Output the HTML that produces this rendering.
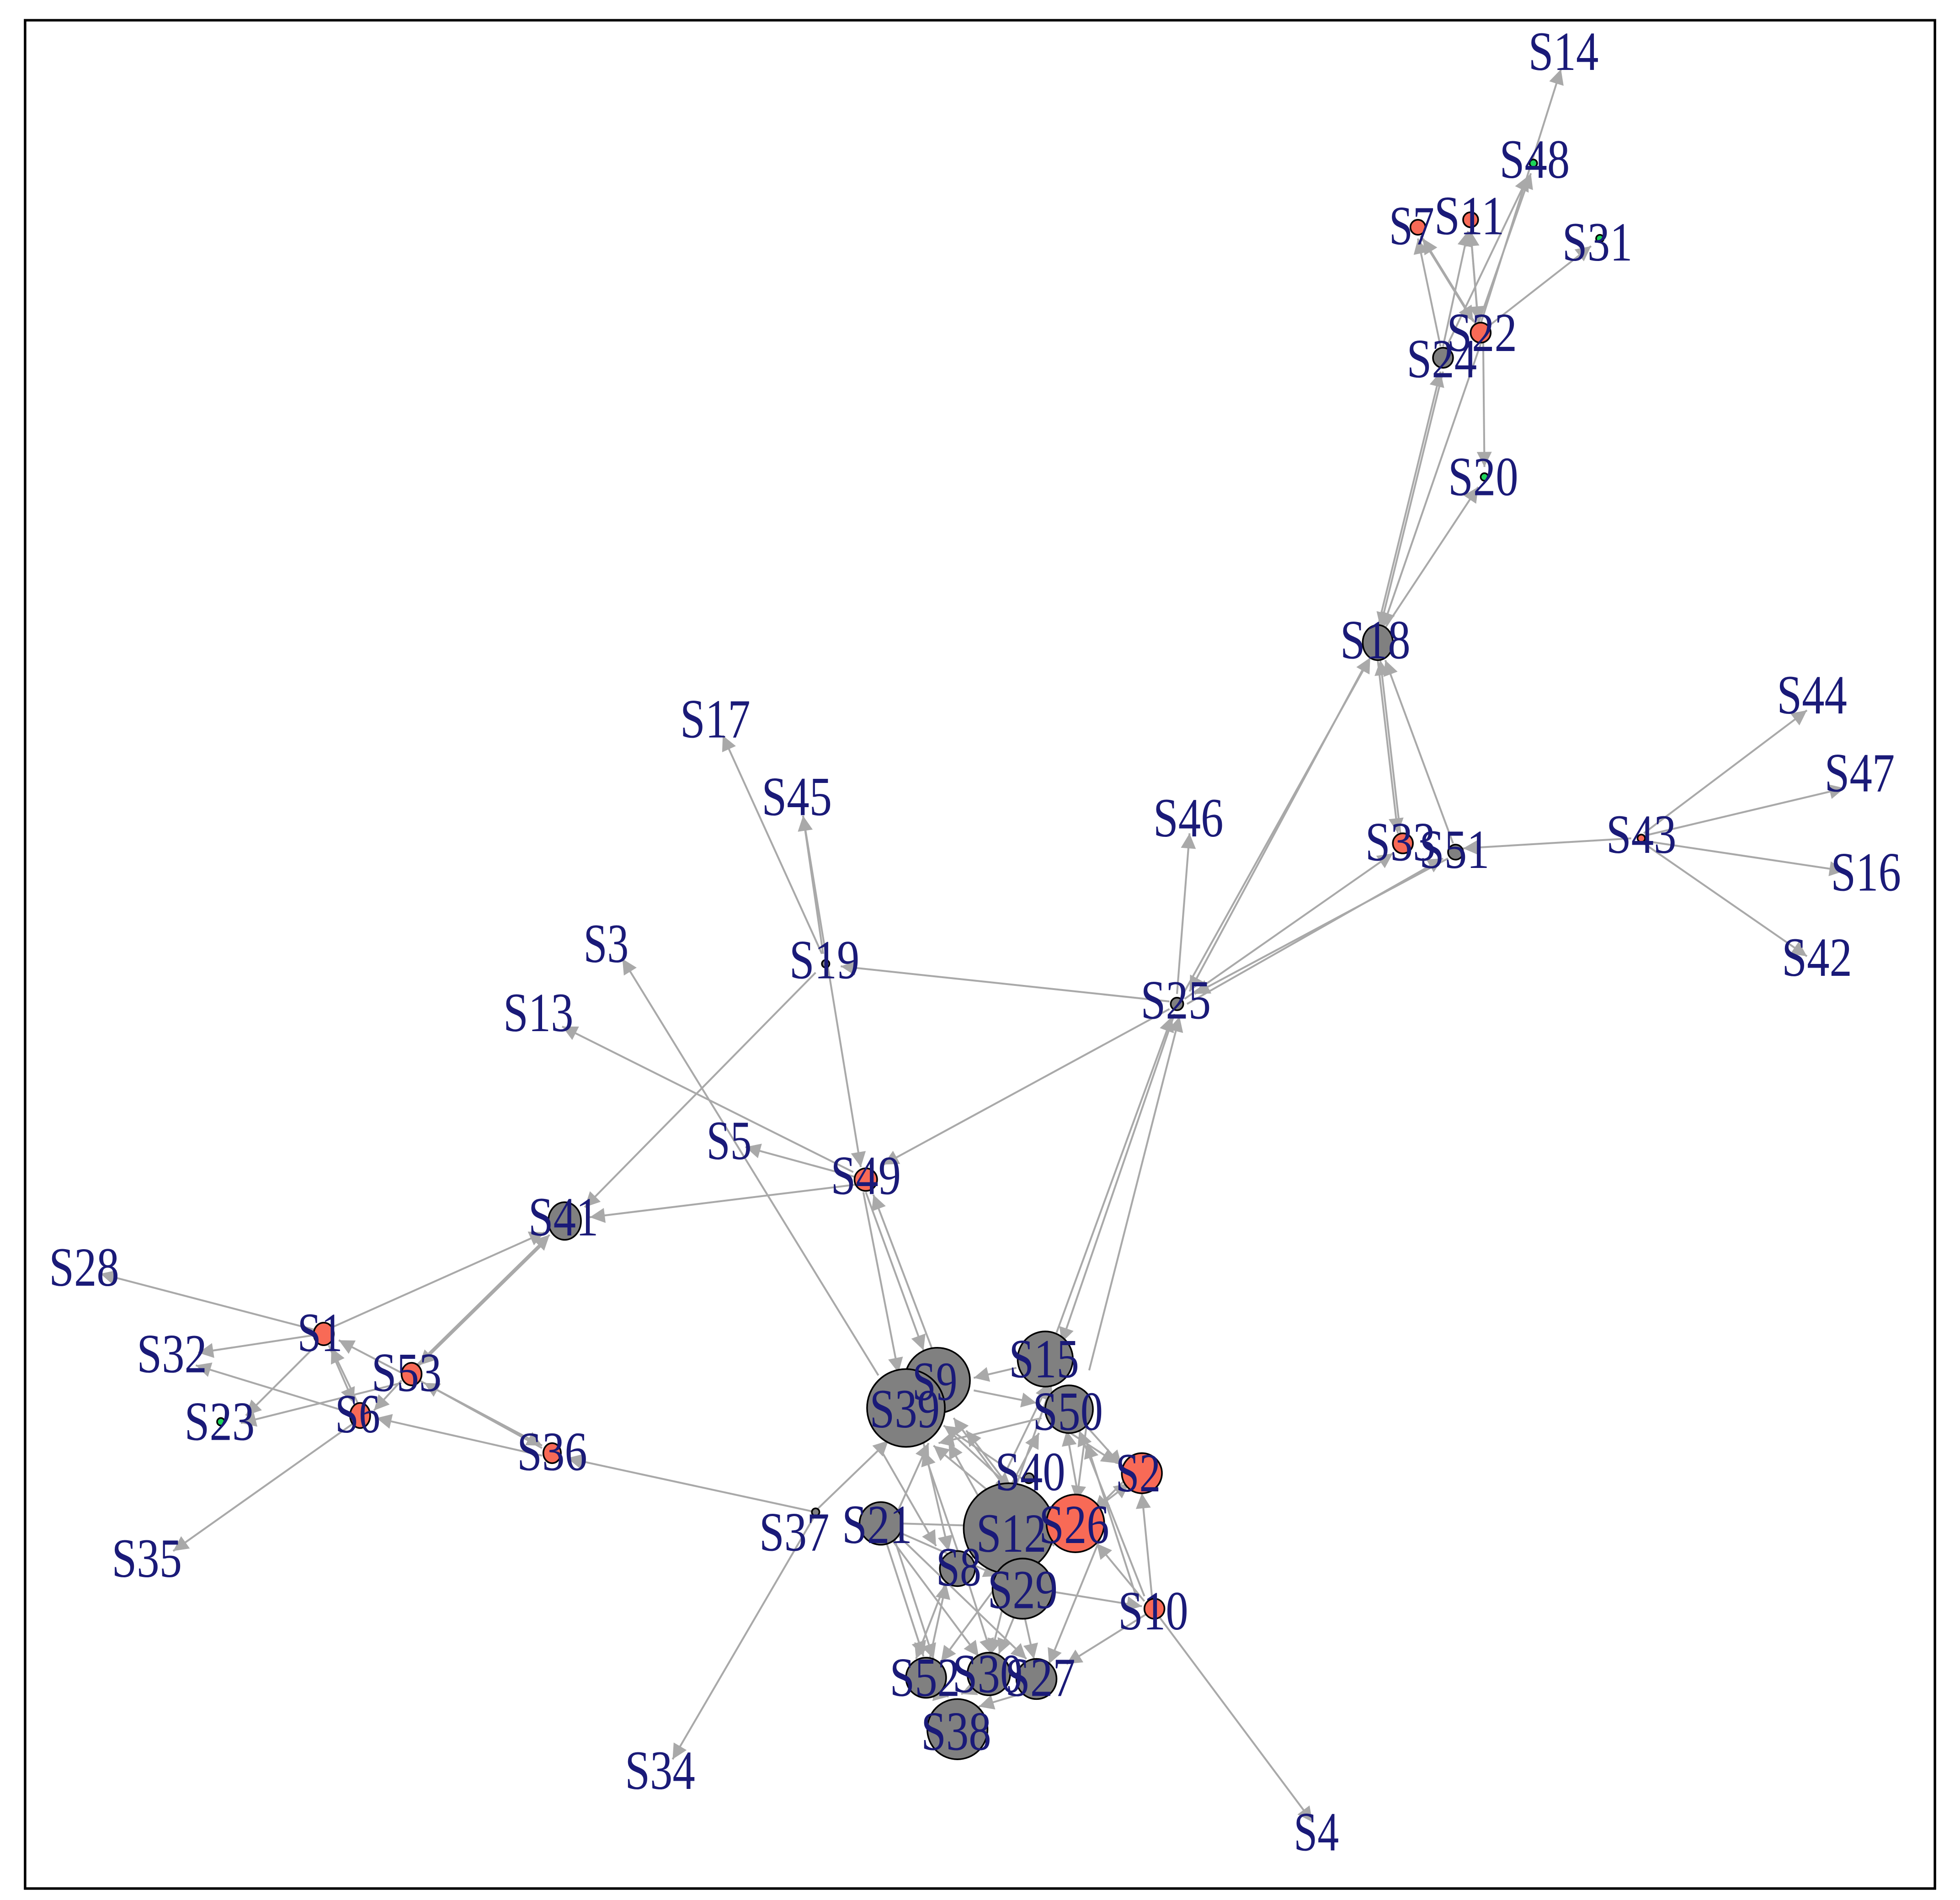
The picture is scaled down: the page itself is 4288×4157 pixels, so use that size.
<!DOCTYPE html>
<html><head><meta charset="utf-8"><style>html,body{margin:0;padding:0;background:#fff}svg{display:block}</style></head>
<body>
<svg xmlns="http://www.w3.org/2000/svg" width="4288" height="4157" viewBox="0 0 1562 1514">
<defs>
<marker id="a" viewBox="0 0 10 10" refX="10" refY="5" markerWidth="17" markerHeight="12" markerUnits="userSpaceOnUse" orient="auto"><path d="M0,0L10,5L0,10z" fill="#a9a9a9"/></marker>
</defs>
<rect x="0" y="0" width="1562" height="1514" fill="#fff"/>
<rect x="20" y="16" width="1522" height="1489" fill="none" stroke="#000" stroke-width="2"/>
<g stroke="#a9a9a9" stroke-width="1.5" fill="none" marker-end="url(#a)">
<line x1="1180" y1="258" x2="1244" y2="55"/>
<line x1="1178" y1="258" x2="1220" y2="138"/>
<line x1="1152" y1="278" x2="1218" y2="140"/>
<line x1="1186" y1="260" x2="1268" y2="196"/>
<line x1="1176" y1="258" x2="1134" y2="190"/>
<line x1="1178" y1="258" x2="1172" y2="184"/>
<line x1="1148" y1="276" x2="1130" y2="190"/>
<line x1="1150" y1="276" x2="1170" y2="184"/>
<line x1="1132" y1="188" x2="1174" y2="256"/>
<line x1="1172" y1="184" x2="1178" y2="256"/>
<line x1="1182" y1="272" x2="1183" y2="372"/>
<line x1="1098" y1="500" x2="1148" y2="296"/>
<line x1="1150" y1="296" x2="1100" y2="500"/>
<line x1="1180" y1="274" x2="1102" y2="500"/>
<line x1="1104" y1="500" x2="1178" y2="388"/>
<line x1="1116" y1="664" x2="1100" y2="526"/>
<line x1="1098" y1="526" x2="1114" y2="664"/>
<line x1="1158" y1="672" x2="1104" y2="526"/>
<line x1="944" y1="790" x2="1092" y2="524"/>
<line x1="1090" y1="526" x2="948" y2="790"/>
<line x1="1300" y1="668" x2="1166" y2="676"/>
<line x1="1310" y1="664" x2="1440" y2="566"/>
<line x1="1310" y1="666" x2="1470" y2="628"/>
<line x1="1310" y1="670" x2="1470" y2="694"/>
<line x1="1310" y1="672" x2="1440" y2="762"/>
<line x1="944" y1="796" x2="1110" y2="680"/>
<line x1="946" y1="800" x2="1150" y2="684"/>
<line x1="1154" y1="684" x2="952" y2="792"/>
<line x1="938" y1="792" x2="948" y2="664"/>
<line x1="932" y1="798" x2="670" y2="770"/>
<line x1="932" y1="804" x2="704" y2="928"/>
<line x1="936" y1="808" x2="846" y2="1070"/>
<line x1="842" y1="1062" x2="934" y2="810"/>
<line x1="868" y1="1092" x2="940" y2="810"/>
<line x1="655" y1="760" x2="576" y2="586"/>
<line x1="656" y1="760" x2="640" y2="650"/>
<line x1="640" y1="650" x2="686" y2="930"/>
<line x1="650" y1="775" x2="466" y2="962"/>
<line x1="682" y1="944" x2="470" y2="970"/>
<line x1="682" y1="938" x2="594" y2="914"/>
<line x1="680" y1="934" x2="448" y2="818"/>
<line x1="690" y1="950" x2="736" y2="1076"/>
<line x1="688" y1="950" x2="716" y2="1094"/>
<line x1="744" y1="1078" x2="696" y2="952"/>
<line x1="700" y1="1096" x2="496" y2="764"/>
<line x1="264" y1="1058" x2="434" y2="982"/>
<line x1="330" y1="1090" x2="438" y2="984"/>
<line x1="436" y1="988" x2="334" y2="1088"/>
<line x1="252" y1="1060" x2="80" y2="1015"/>
<line x1="250" y1="1064" x2="158" y2="1078"/>
<line x1="254" y1="1070" x2="196" y2="1128"/>
<line x1="286" y1="1120" x2="264" y2="1074"/>
<line x1="262" y1="1072" x2="282" y2="1118"/>
<line x1="320" y1="1094" x2="270" y2="1068"/>
<line x1="320" y1="1100" x2="298" y2="1124"/>
<line x1="282" y1="1134" x2="138" y2="1236"/>
<line x1="280" y1="1126" x2="156" y2="1088"/>
<line x1="320" y1="1102" x2="192" y2="1134"/>
<line x1="432" y1="1154" x2="338" y2="1102"/>
<line x1="334" y1="1100" x2="432" y2="1152"/>
<line x1="432" y1="1160" x2="300" y2="1130"/>
<line x1="650" y1="1205" x2="452" y2="1162"/>
<line x1="652" y1="1202" x2="708" y2="1148"/>
<line x1="648" y1="1210" x2="536" y2="1402"/>
<line x1="922" y1="1286" x2="1046" y2="1452"/>
<line x1="914" y1="1286" x2="850" y2="1326"/>
<line x1="918" y1="1272" x2="910" y2="1190"/>
<line x1="912" y1="1276" x2="874" y2="1230"/>
<line x1="836" y1="1268" x2="910" y2="1280"/>
<line x1="906" y1="1274" x2="866" y2="1150"/>
<line x1="912" y1="1272" x2="860" y2="1140"/>
<line x1="716" y1="1214" x2="782" y2="1216"/>
<line x1="712" y1="1212" x2="740" y2="1150"/>
<line x1="712" y1="1224" x2="744" y2="1322"/>
<line x1="710" y1="1226" x2="780" y2="1320"/>
<line x1="706" y1="1228" x2="736" y2="1320"/>
<line x1="714" y1="1222" x2="818" y2="1322"/>
<line x1="714" y1="1220" x2="796" y2="1256"/>
<line x1="820" y1="1182" x2="752" y2="1136"/>
<line x1="810" y1="1090" x2="776" y2="1098"/>
<line x1="776" y1="1108" x2="826" y2="1118"/>
<line x1="830" y1="1130" x2="748" y2="1150"/>
<line x1="850" y1="1140" x2="890" y2="1166"/>
<line x1="860" y1="1130" x2="894" y2="1168"/>
<line x1="896" y1="1180" x2="872" y2="1204"/>
<line x1="790" y1="1190" x2="744" y2="1152"/>
<line x1="800" y1="1184" x2="760" y2="1130"/>
<line x1="840" y1="1232" x2="770" y2="1140"/>
<line x1="812" y1="1250" x2="756" y2="1150"/>
<line x1="766" y1="1244" x2="736" y2="1156"/>
<line x1="770" y1="1250" x2="828" y2="1142"/>
<line x1="760" y1="1258" x2="836" y2="1102"/>
<line x1="790" y1="1240" x2="838" y2="1104"/>
<line x1="754" y1="1260" x2="730" y2="1322"/>
<line x1="772" y1="1262" x2="790" y2="1318"/>
<line x1="810" y1="1284" x2="796" y2="1318"/>
<line x1="816" y1="1286" x2="824" y2="1322"/>
<line x1="800" y1="1256" x2="750" y2="1324"/>
<line x1="780" y1="1344" x2="766" y2="1350"/>
<line x1="820" y1="1348" x2="780" y2="1360"/>
<line x1="736" y1="1348" x2="756" y2="1352"/>
<line x1="840" y1="1228" x2="900" y2="1182"/>
<line x1="868" y1="1120" x2="858" y2="1196"/>
<line x1="700" y1="1152" x2="746" y2="1232"/>
<line x1="860" y1="1196" x2="850" y2="1140"/>
<line x1="880" y1="1218" x2="836" y2="1326"/>
<line x1="736" y1="1150" x2="756" y2="1236"/>
<line x1="756" y1="1140" x2="806" y2="1186"/>
<line x1="820" y1="1196" x2="790" y2="1318"/>
<line x1="740" y1="1326" x2="754" y2="1262"/>
</g>
<g stroke="#000" stroke-width="1.3">
<circle cx="1222" cy="130" r="3" fill="#1dd45a"/>
<circle cx="1275" cy="190" r="3" fill="#1dd45a"/>
<circle cx="1183" cy="380" r="3" fill="#1dd45a"/>
<circle cx="176" cy="1133" r="3" fill="#1dd45a"/>
<circle cx="1130" cy="181" r="6" fill="#f86a56"/>
<circle cx="1172" cy="175" r="6" fill="#f86a56"/>
<circle cx="1180" cy="265" r="8" fill="#f86a56"/>
<circle cx="1150" cy="285" r="8" fill="#808080"/>
<ellipse cx="1098" cy="512" rx="12" ry="14" fill="#808080"/>
<circle cx="1118" cy="672" r="8" fill="#f86a56"/>
<circle cx="1160" cy="679" r="6" fill="#808080"/>
<circle cx="1308" cy="668" r="3" fill="#f86a56"/>
<circle cx="658" cy="768" r="3" fill="#808080"/>
<circle cx="938" cy="800" r="5" fill="#808080"/>
<circle cx="690" cy="940" r="9" fill="#f86a56"/>
<ellipse cx="450" cy="973" rx="13" ry="15" fill="#808080"/>
<ellipse cx="258" cy="1063" rx="8" ry="9" fill="#f86a56"/>
<ellipse cx="328" cy="1095" rx="8" ry="9" fill="#f86a56"/>
<ellipse cx="287" cy="1128" rx="8" ry="10" fill="#f86a56"/>
<ellipse cx="440" cy="1158" rx="7" ry="8" fill="#f86a56"/>
<circle cx="650" cy="1205" r="3" fill="#808080"/>
<circle cx="747" cy="1100" r="26" fill="#808080"/>
<circle cx="722" cy="1122" r="31" fill="#808080"/>
<circle cx="833" cy="1083" r="22" fill="#808080"/>
<circle cx="852" cy="1123" r="19" fill="#808080"/>
<circle cx="910" cy="1174" r="16" fill="#f86a56"/>
<circle cx="820" cy="1178" r="4" fill="#808080"/>
<circle cx="804" cy="1218" r="36" fill="#808080"/>
<circle cx="857" cy="1214" r="23" fill="#f86a56"/>
<circle cx="702" cy="1214" r="17" fill="#808080"/>
<circle cx="763" cy="1250" r="14" fill="#808080"/>
<circle cx="815" cy="1266" r="24" fill="#808080"/>
<circle cx="920" cy="1282" r="8" fill="#f86a56"/>
<circle cx="738" cy="1337" r="16" fill="#808080"/>
<circle cx="788" cy="1334" r="17" fill="#808080"/>
<circle cx="826" cy="1338" r="16" fill="#808080"/>
<circle cx="763" cy="1378" r="24" fill="#808080"/>
</g>
<g font-family="Liberation Serif, serif" font-size="44" fill="#1a1a78" text-anchor="middle" dominant-baseline="central">
<text x="1246" y="41" textLength="56" lengthAdjust="spacingAndGlyphs">S14</text>
<text x="1223" y="127" textLength="56" lengthAdjust="spacingAndGlyphs">S48</text>
<text x="1125" y="180" textLength="36" lengthAdjust="spacingAndGlyphs">S7</text>
<text x="1171" y="172" textLength="56" lengthAdjust="spacingAndGlyphs">S11</text>
<text x="1273" y="193" textLength="56" lengthAdjust="spacingAndGlyphs">S31</text>
<text x="1181" y="265" textLength="56" lengthAdjust="spacingAndGlyphs">S22</text>
<text x="1149" y="286" textLength="56" lengthAdjust="spacingAndGlyphs">S24</text>
<text x="1182" y="380" textLength="56" lengthAdjust="spacingAndGlyphs">S20</text>
<text x="1096" y="510" textLength="56" lengthAdjust="spacingAndGlyphs">S18</text>
<text x="570" y="573" textLength="56" lengthAdjust="spacingAndGlyphs">S17</text>
<text x="635" y="635" textLength="56" lengthAdjust="spacingAndGlyphs">S45</text>
<text x="947" y="652" textLength="56" lengthAdjust="spacingAndGlyphs">S46</text>
<text x="1116" y="671" textLength="56" lengthAdjust="spacingAndGlyphs">S33</text>
<text x="1159" y="677" textLength="56" lengthAdjust="spacingAndGlyphs">S51</text>
<text x="1308" y="665" textLength="56" lengthAdjust="spacingAndGlyphs">S43</text>
<text x="1444" y="554" textLength="56" lengthAdjust="spacingAndGlyphs">S44</text>
<text x="1482" y="616" textLength="56" lengthAdjust="spacingAndGlyphs">S47</text>
<text x="1487" y="695" textLength="56" lengthAdjust="spacingAndGlyphs">S16</text>
<text x="1448" y="763" textLength="56" lengthAdjust="spacingAndGlyphs">S42</text>
<text x="483" y="752" textLength="36" lengthAdjust="spacingAndGlyphs">S3</text>
<text x="657" y="765" textLength="56" lengthAdjust="spacingAndGlyphs">S19</text>
<text x="429" y="807" textLength="56" lengthAdjust="spacingAndGlyphs">S13</text>
<text x="937" y="797" textLength="56" lengthAdjust="spacingAndGlyphs">S25</text>
<text x="581" y="909" textLength="36" lengthAdjust="spacingAndGlyphs">S5</text>
<text x="690" y="937" textLength="56" lengthAdjust="spacingAndGlyphs">S49</text>
<text x="449" y="970" textLength="56" lengthAdjust="spacingAndGlyphs">S41</text>
<text x="67" y="1010" textLength="56" lengthAdjust="spacingAndGlyphs">S28</text>
<text x="255" y="1062" textLength="36" lengthAdjust="spacingAndGlyphs">S1</text>
<text x="137" y="1079" textLength="56" lengthAdjust="spacingAndGlyphs">S32</text>
<text x="324" y="1094" textLength="56" lengthAdjust="spacingAndGlyphs">S53</text>
<text x="175" y="1133" textLength="56" lengthAdjust="spacingAndGlyphs">S23</text>
<text x="285" y="1127" textLength="36" lengthAdjust="spacingAndGlyphs">S6</text>
<text x="440" y="1157" textLength="56" lengthAdjust="spacingAndGlyphs">S36</text>
<text x="117" y="1242" textLength="56" lengthAdjust="spacingAndGlyphs">S35</text>
<text x="745" y="1101" textLength="36" lengthAdjust="spacingAndGlyphs">S9</text>
<text x="721" y="1123" textLength="56" lengthAdjust="spacingAndGlyphs">S39</text>
<text x="832" y="1083" textLength="56" lengthAdjust="spacingAndGlyphs">S15</text>
<text x="851" y="1125" textLength="56" lengthAdjust="spacingAndGlyphs">S50</text>
<text x="907" y="1174" textLength="36" lengthAdjust="spacingAndGlyphs">S2</text>
<text x="821" y="1173" textLength="56" lengthAdjust="spacingAndGlyphs">S40</text>
<text x="806" y="1222" textLength="56" lengthAdjust="spacingAndGlyphs">S12</text>
<text x="856" y="1215" textLength="56" lengthAdjust="spacingAndGlyphs">S26</text>
<text x="699" y="1215" textLength="56" lengthAdjust="spacingAndGlyphs">S21</text>
<text x="633" y="1221" textLength="56" lengthAdjust="spacingAndGlyphs">S37</text>
<text x="764" y="1249" textLength="36" lengthAdjust="spacingAndGlyphs">S8</text>
<text x="815" y="1267" textLength="56" lengthAdjust="spacingAndGlyphs">S29</text>
<text x="919" y="1284" textLength="56" lengthAdjust="spacingAndGlyphs">S10</text>
<text x="737" y="1337" textLength="56" lengthAdjust="spacingAndGlyphs">S52</text>
<text x="787" y="1334" textLength="56" lengthAdjust="spacingAndGlyphs">S30</text>
<text x="829" y="1337" textLength="56" lengthAdjust="spacingAndGlyphs">S27</text>
<text x="762" y="1380" textLength="56" lengthAdjust="spacingAndGlyphs">S38</text>
<text x="526" y="1411" textLength="56" lengthAdjust="spacingAndGlyphs">S34</text>
<text x="1049" y="1460" textLength="36" lengthAdjust="spacingAndGlyphs">S4</text>
</g>
</svg>
</body></html>
